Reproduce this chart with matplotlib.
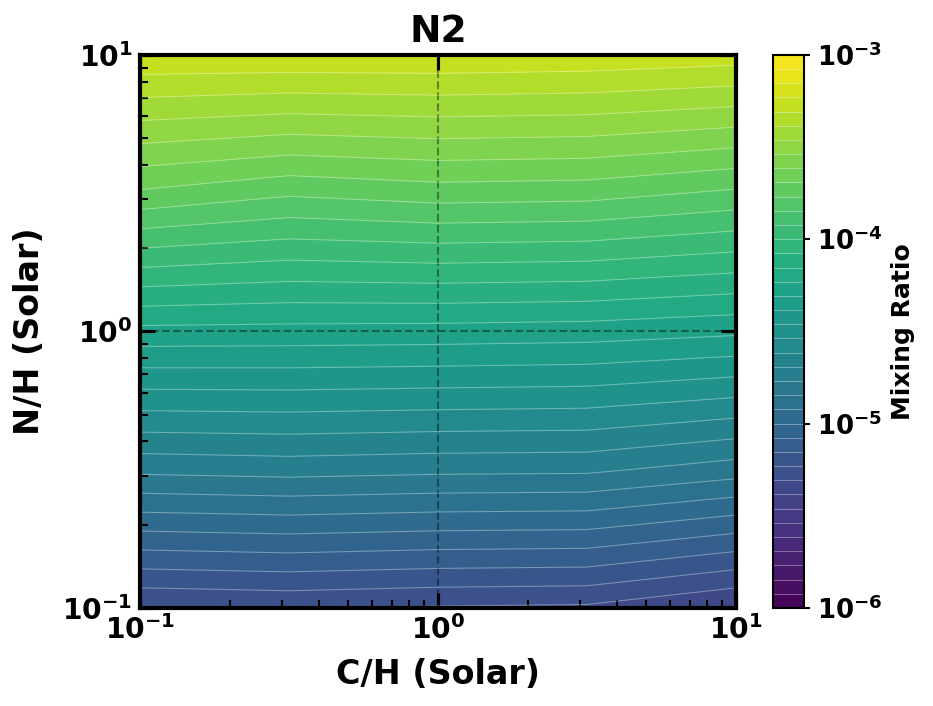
import numpy as np
import matplotlib.pyplot as plt
from matplotlib.ticker import FixedLocator, FuncFormatter

plt.rcParams['font.family'] = ['DejaVu Sans']
plt.rcParams['font.weight'] = 'bold'

# grid of the model runs (solar units)
c_h = [0.1, 0.3162, 1.0, 3.162, 10.0]
n_h = [0.1, 0.3162, 1.0, 3.162, 10.0]

# N2 mixing ratio, one list per N/H row, columns follow c_h
n2_nh_0p1 = [4.87e-6, 5.01e-6, 4.84e-6, 4.77e-6, 4.05e-6]
n2_nh_0p3 = [1.778e-5, 1.826e-5, 1.778e-5, 1.763e-5, 1.557e-5]
n2_nh_1 = [5.575e-5, 5.525e-5, 5.476e-5, 5.381e-5, 5.101e-5]
n2_nh_3 = [1.978e-4, 1.747e-4, 1.859e-4, 1.826e-4, 1.642e-4]
n2_nh_10 = [5.724e-4, 5.724e-4, 5.724e-4, 5.623e-4, 5.381e-4]

mix = np.array([n2_nh_0p1, n2_nh_0p3, n2_nh_1, n2_nh_3, n2_nh_10])

# work in log10 space so the contours are interpolated in log
lx = np.log10(c_h)
ly = np.log10(n_h)
lz = np.log10(mix)
levels = np.linspace(-6, -3, 40)

fig = plt.figure(figsize=(933 / 150, 706 / 150), dpi=150)
ax = fig.add_axes([0.150, 0.139, 0.6388, 0.7833])
cax = fig.add_axes([0.8285, 0.139, 0.033, 0.7833])

cf = ax.contourf(lx, ly, lz, levels=levels, cmap='viridis')
cl = ax.contour(lx, ly, lz, levels=levels, colors='white',
                linewidths=0.5, linestyles='solid', alpha=0.35)

ax.set_xlim(-1, 1)
ax.set_ylim(-1, 1)

# log style ticks
def pow_fmt(v, pos):
    return r'$\mathbf{10^{%d}}$' % int(round(v))

minor = [np.log10(m * 10.0 ** e) for e in (-1, 0) for m in range(2, 10)]
for axis in (ax.xaxis, ax.yaxis):
    axis.set_major_locator(FixedLocator([-1, 0, 1]))
    axis.set_minor_locator(FixedLocator(minor))
    axis.set_major_formatter(FuncFormatter(pow_fmt))

ax.tick_params(which='major', direction='in', top=True, right=True,
               length=7, width=1.5, labelsize=13.5)
ax.tick_params(which='minor', direction='in', length=4, width=1)

ax.grid(True, which='major', color='black', linestyle='--', linewidth=1, alpha=0.4)
for s in ax.spines.values():
    s.set_linewidth(2)

ax.set_xlabel('C/H (Solar)', fontsize=16, fontweight='bold', labelpad=6)
ax.set_ylabel('N/H (Solar)', fontsize=16, fontweight='bold', labelpad=8)
ax.set_title('N2', fontsize=18, fontweight='bold')

cbar = fig.colorbar(cf, cax=cax, ticks=[-6, -5, -4, -3])
cbar.add_lines(cl)
cbar.ax.yaxis.set_major_formatter(FuncFormatter(pow_fmt))
cbar.ax.tick_params(labelsize=12.5, length=3, width=1)
cbar.outline.set_linewidth(1)
cbar.set_label('Mixing Ratio', fontsize=12, fontweight='bold')

fig.savefig('out.png', dpi=150)
